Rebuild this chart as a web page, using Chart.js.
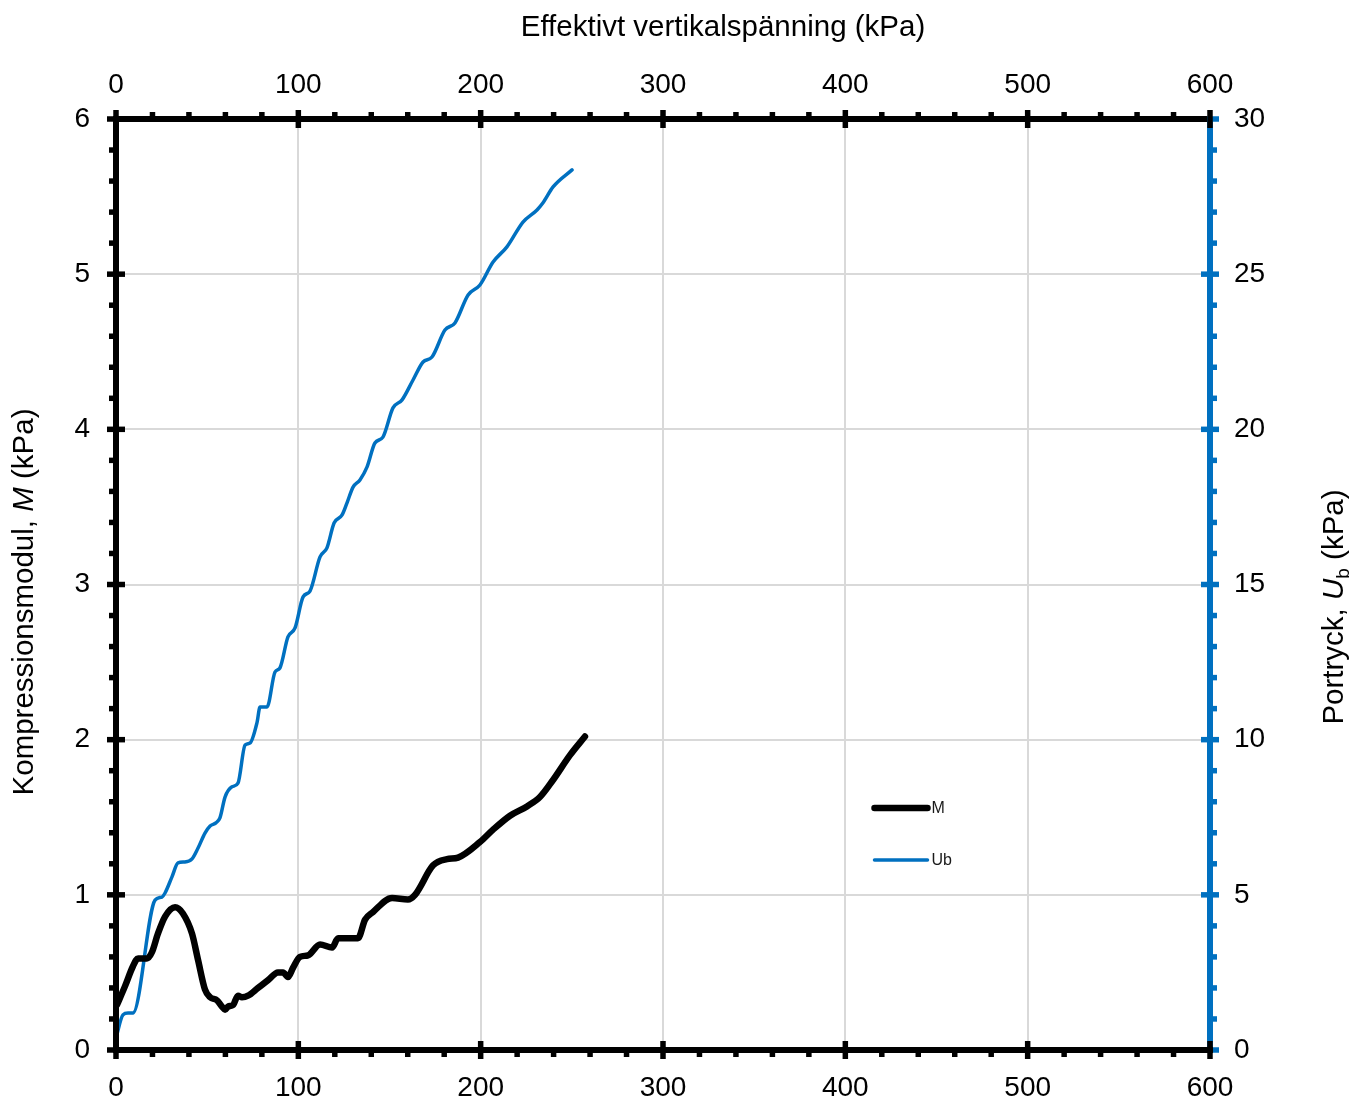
<!DOCTYPE html>
<html>
<head>
<meta charset="utf-8">
<script src="https://cdn.jsdelivr.net/npm/chart.js@4/dist/chart.umd.min.js"></script>
<style>
  html, body { margin: 0; padding: 0; background: #fff; }
</style>
</head>
<body>
<canvas id="myChart" width="1353" height="1098"></canvas>
<script>
// Kompressionsmodul M mot effektiv vertikalspänning
var stressM = [0.5, 4.9, 9.3, 12.1, 17.0, 19.7, 23.0, 26.9, 32.4, 36.7, 41.7, 45.0, 48.8, 51.6, 55.4, 58.1, 59.8, 61.4, 64.2, 66.9,
  69.1, 72.4, 77.9, 83.4, 88.8, 91.6, 94.3, 97.1, 100.9, 105.3, 111.9, 118.5, 121.8, 126.7, 132.7, 136.6, 141.0, 151.4, 160.1, 164.0,
  173.9, 181.5, 187.6, 199.6, 206.8, 216.1, 225.4, 232.5, 239.7, 249.0, 257.2];
var modulM = [0.29, 0.41, 0.54, 0.59, 0.59, 0.63, 0.75, 0.86, 0.92, 0.88, 0.75, 0.58, 0.39, 0.34, 0.32, 0.28, 0.26, 0.28, 0.29, 0.35,
  0.34, 0.35, 0.40, 0.45, 0.50, 0.50, 0.47, 0.53, 0.60, 0.61, 0.68, 0.66, 0.72, 0.72, 0.72, 0.84, 0.89, 0.98, 0.97, 1.00,
  1.19, 1.23, 1.24, 1.34, 1.42, 1.51, 1.57, 1.63, 1.74, 1.90, 2.02];

// Portryck Ub mot effektiv vertikalspänning
var stressUb = [0, 3.8, 6.6, 9.3, 21.4, 25.2, 26.9, 30.7, 34.0, 37.8, 41.7, 45.0, 48.8, 51.6, 54.8, 57.0, 59.8, 63.6, 66.9, 70.8,
  73.5, 77.3, 79.0, 82.8, 87.2, 89.9, 94.3, 98.2, 102.6, 106.4, 111.9, 115.7, 119.6, 124.0, 126.7, 130.0, 133.8, 137.7, 142.0, 146.4,
  151.9, 156.9, 162.9, 168.4, 173.3, 180.4, 185.9, 193.1, 199.6, 206.8, 214.4, 223.2, 230.9, 234.2, 239.7, 250.1];
var poreUb = [0.39, 1.13, 1.19, 1.19, 4.83, 4.93, 5.06, 5.58, 6.03, 6.06, 6.16, 6.51, 6.99, 7.22, 7.32, 7.48, 8.15, 8.48, 8.60, 9.83,
  9.89, 10.54, 11.05, 11.05, 12.18, 12.31, 13.31, 13.60, 14.60, 14.79, 15.89, 16.18, 16.98, 17.24, 17.63, 18.14, 18.37, 18.79, 19.56, 19.75,
  20.69, 20.95, 21.59, 22.17, 22.33, 23.20, 23.43, 24.33, 24.65, 25.39, 25.88, 26.68, 27.07, 27.30, 27.81, 28.36];

// axis ranges: [min, max, major step, minor step]
var xAxis = [0, 600, 100, 20];
var yAxis = [0, 6, 1, 0.2];
var y2Axis = [0, 30, 5, 1];

var BLUE = "#0070C0";
var FONT = "'Liberation Sans', Arial, sans-serif";

function points(xs, ys) {
  return xs.map(function (x, i) { return { x: x, y: ys[i] }; });
}

// writes a label made of several styled pieces (italic, subscript)
function richText(ctx, parts, x, y, angle) {
  ctx.save();
  ctx.translate(x, y);
  ctx.rotate(angle);
  ctx.textAlign = "left";
  ctx.textBaseline = "alphabetic";
  ctx.fillStyle = "#000";
  var total = 0;
  parts.forEach(function (p) {
    ctx.font = p.font;
    p.w = ctx.measureText(p.text).width;
    total += p.w;
  });
  var pos = -total / 2;
  parts.forEach(function (p) {
    ctx.font = p.font;
    ctx.fillText(p.text, pos, p.dy || 0);
    pos += p.w;
  });
  ctx.restore();
}

function tick(ctx, x1, y1, x2, y2) {
  ctx.beginPath();
  ctx.moveTo(x1, y1);
  ctx.lineTo(x2, y2);
  ctx.stroke();
}

function steps(ax, step) {
  var out = [];
  for (var v = ax[0]; v <= ax[1] + 1e-9; v += step) out.push(Math.round(v * 1000) / 1000);
  return out;
}

var framePlugin = {
  id: "frame",
  afterDraw: function (chart) {
    var ctx = chart.ctx;
    var a = chart.chartArea;
    var sx = chart.scales.x, sy = chart.scales.y, sy2 = chart.scales.y2;
    ctx.save();
    ctx.lineCap = "butt";

    // right axis (blue)
    ctx.strokeStyle = BLUE;
    ctx.lineWidth = 6;
    tick(ctx, a.right, a.top, a.right, a.bottom);
    ctx.lineWidth = 5.5;
    steps(y2Axis, y2Axis[3]).forEach(function (v) {
      var p = sy2.getPixelForValue(v);
      if (v % y2Axis[2] === 0) tick(ctx, a.right - 9, p, a.right + 9, p);
      else tick(ctx, a.right, p, a.right + 7, p);
    });

    // black frame: left, top, bottom
    ctx.strokeStyle = "#000";
    ctx.lineWidth = 6;
    tick(ctx, a.left, a.top, a.left, a.bottom);
    tick(ctx, a.left - 3, a.top, a.right - 3, a.top);
    tick(ctx, a.left - 3, a.bottom, a.right + 3, a.bottom);

    ctx.lineWidth = 5.5;
    steps(yAxis, yAxis[3]).forEach(function (v) {
      var p = sy.getPixelForValue(v);
      if (Math.abs(v - Math.round(v)) < 1e-6) tick(ctx, a.left - 9, p, a.left + 9, p);
      else tick(ctx, a.left - 7, p, a.left, p);
    });
    steps(xAxis, xAxis[3]).forEach(function (v) {
      var p = sx.getPixelForValue(v);
      if (v % xAxis[2] === 0) {
        tick(ctx, p, a.top - 9, p, a.top + 9);
        tick(ctx, p, a.bottom - 9, p, a.bottom + 9);
      } else {
        tick(ctx, p, a.top - 7, p, a.top);
        tick(ctx, p, a.bottom, p, a.bottom + 7);
      }
    });

    // axis titles
    var f = "29.5px " + FONT;
    richText(ctx, [{ text: "Effektivt vertikalspänning (kPa)", font: f }], 723, 36, 0);
    richText(ctx, [
      { text: "Kompressionsmodul, ", font: f },
      { text: "M", font: "italic " + f },
      { text: " (kPa)", font: f }
    ], 33, 602, -Math.PI / 2);
    richText(ctx, [
      { text: "Portryck, ", font: f },
      { text: "U", font: "italic " + f },
      { text: "b", font: "19px " + FONT, dy: 6 },
      { text: " (kPa)", font: f }
    ], 1343, 607, -Math.PI / 2);

    // legend inside the plot
    var lx = sx.getPixelForValue(416), ly = sy.getPixelForValue(1.56);
    chart.data.datasets.forEach(function (ds, i) {
      var yy = ly + i * 52;
      ctx.strokeStyle = ds.borderColor;
      ctx.lineWidth = ds.borderWidth;
      ctx.lineCap = "round";
      tick(ctx, lx, yy, lx + 53, yy);
      ctx.fillStyle = "#1a1a1a";
      ctx.font = "16px " + FONT;
      ctx.textAlign = "left";
      ctx.textBaseline = "middle";
      ctx.fillText(ds.label, lx + 57, yy + 1);
    });
    ctx.restore();
  }
};

var tickFont = { family: FONT, size: 28 };

new Chart(document.getElementById("myChart"), {
  type: "line",
  data: {
    datasets: [
      {
        label: "M",
        data: points(stressM, modulM),
        xAxisID: "x",
        yAxisID: "y",
        borderColor: "#000",
        borderWidth: 6.5,
        borderCapStyle: "round",
        borderJoinStyle: "round",
        pointRadius: 0,
        cubicInterpolationMode: "monotone",
        fill: false
      },
      {
        label: "Ub",
        data: points(stressUb, poreUb),
        xAxisID: "x",
        yAxisID: "y2",
        borderColor: BLUE,
        borderWidth: 3.5,
        borderCapStyle: "round",
        borderJoinStyle: "round",
        pointRadius: 0,
        cubicInterpolationMode: "monotone",
        fill: false
      }
    ]
  },
  options: {
    responsive: false,
    animation: false,
    devicePixelRatio: 1,
    layout: { padding: 0 },
    plugins: { legend: { display: false }, tooltip: { enabled: false } },
    scales: {
      x: {
        type: "linear", position: "bottom",
        min: xAxis[0], max: xAxis[1],
        ticks: { stepSize: xAxis[2], color: "#000", font: tickFont, padding: 21, maxRotation: 0 },
        grid: { color: "#d9d9d9", lineWidth: 2, drawTicks: false },
        border: { display: false },
        afterFit: function (s) { s.height = 48; }
      },
      x2: {
        type: "linear", position: "top",
        min: xAxis[0], max: xAxis[1],
        ticks: { stepSize: xAxis[2], color: "#000", font: tickFont, padding: 17, maxRotation: 0 },
        grid: { display: false, drawTicks: false },
        border: { display: false },
        afterFit: function (s) { s.height = 119; }
      },
      y: {
        type: "linear", position: "left",
        min: yAxis[0], max: yAxis[1],
        ticks: { stepSize: yAxis[2], color: "#000", font: tickFont, padding: 26 },
        grid: { color: "#d9d9d9", lineWidth: 2, drawTicks: false },
        border: { display: false },
        afterFit: function (s) { s.width = 116; }
      },
      y2: {
        type: "linear", position: "right",
        min: y2Axis[0], max: y2Axis[1],
        ticks: { stepSize: y2Axis[2], color: "#000", font: tickFont, padding: 24 },
        grid: { display: false, drawTicks: false },
        border: { display: false },
        afterFit: function (s) { s.width = 143; }
      }
    }
  },
  plugins: [framePlugin]
});
</script>
</body>
</html>
